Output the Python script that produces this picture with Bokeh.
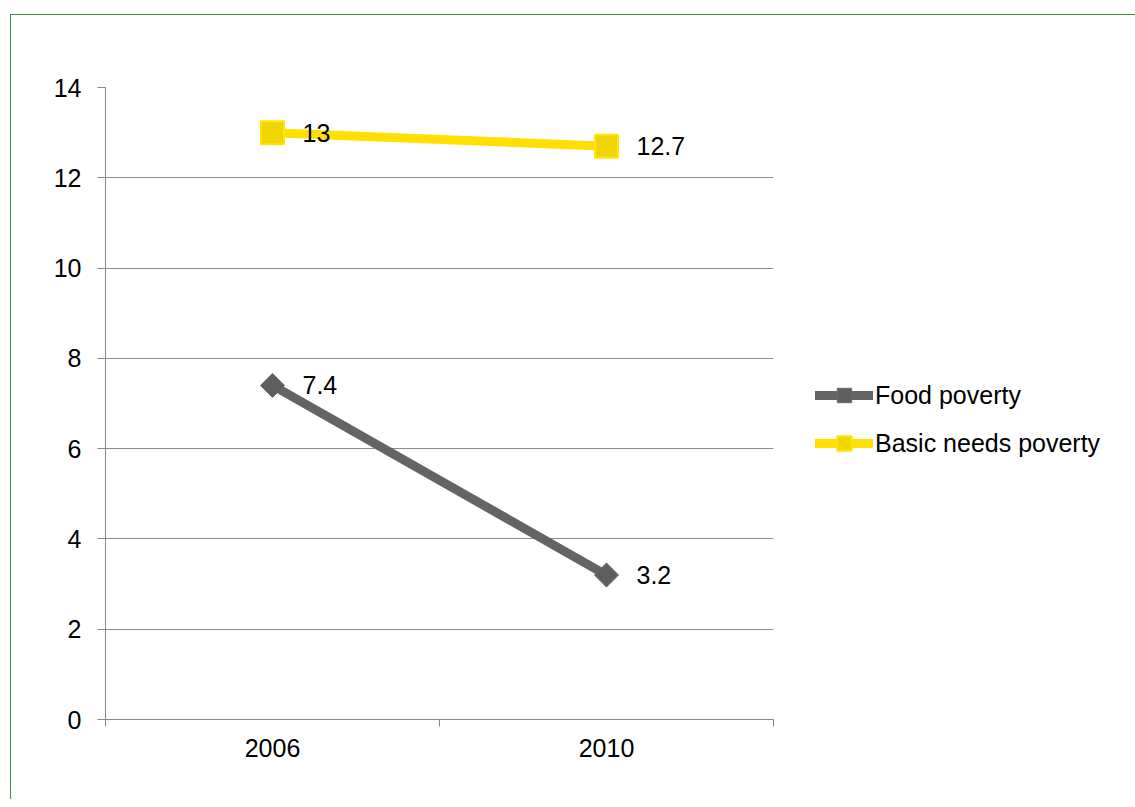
import math
from bokeh.plotting import figure
from bokeh.models import FixedTicker, Legend, LegendItem, Range1d
from bokeh.embed import file_html
from bokeh.resources import INLINE
from bokeh.core.properties import value

# ---- data ----
years = ["2006", "2010"]
food_poverty = [7.4, 3.2]
basic_needs_poverty = [13, 12.7]
y_ticks = [0, 2, 4, 6, 8, 10, 12, 14]

FONT = "Liberation Sans"
FS = "25px"
AXIS_GRAY = "#868686"
GREEN = "#3E8E4E"

xs = [i + 0.5 for i in range(len(years))]
boundaries = list(range(len(years) + 1))

p = figure(
    frame_width=668, frame_height=632,
    min_border_left=94, min_border_top=72, min_border_bottom=80, min_border_right=350,
    x_range=Range1d(0, len(years)), y_range=Range1d(0, 14),
    output_backend="svg", toolbar_location=None,
    styles={"margin-left": "10px", "margin-top": "14px",
            "border-left": f"1px solid {GREEN}", "border-top": f"1px solid {GREEN}"},
)
p.outline_line_color = None
p.background_fill_color = "white"
p.border_fill_color = "white"

# y axis
p.yaxis.ticker = FixedTicker(ticks=y_ticks)
p.yaxis.axis_line_color = AXIS_GRAY
p.yaxis.major_tick_line_color = AXIS_GRAY
p.yaxis.major_tick_out = 8
p.yaxis.major_tick_in = 0
p.yaxis.minor_tick_line_color = None
p.yaxis.major_label_standoff = 16
p.yaxis.major_label_text_font = FONT
p.yaxis.major_label_text_font_size = FS
p.yaxis.major_label_text_color = "black"

# x axis
p.xaxis.ticker = FixedTicker(ticks=xs, minor_ticks=boundaries)
p.xaxis.major_label_overrides = {x: y for x, y in zip(xs, years)}
p.xaxis.axis_line_color = AXIS_GRAY
p.xaxis.major_tick_line_color = None
p.xaxis.major_tick_out = 0
p.xaxis.major_tick_in = 0
p.xaxis.minor_tick_line_color = AXIS_GRAY
p.xaxis.minor_tick_out = 7
p.xaxis.minor_tick_in = 0
p.xaxis.major_label_standoff = 12
p.xaxis.major_label_text_font = FONT
p.xaxis.major_label_text_font_size = FS
p.xaxis.major_label_text_color = "black"

p.xgrid.grid_line_color = None
p.ygrid.ticker = FixedTicker(ticks=y_ticks)
p.ygrid.grid_line_color = "#8C8C8C"
p.ygrid.grid_line_width = 1

# series
food_line = p.line(xs, food_poverty, line_color="#646464", line_width=9, line_cap="round")
food_mk = p.scatter(xs, food_poverty, marker="square", angle=math.pi / 4, size=17,
                    fill_color="#5E5E5E", line_color="#6A6A6A", line_width=1)
basic_line = p.line(xs, basic_needs_poverty, line_color="#FFE000", line_width=9, line_cap="round")
basic_mk = p.scatter(xs, basic_needs_poverty, marker="square", size=23,
                     fill_color="#F2D400", line_color="#FFE600", line_width=2)

for vals in (food_poverty, basic_needs_poverty):
    p.text(xs, vals, text=[f"{v:g}" for v in vals], x_offset=30,
           text_baseline="middle", text_align="left",
           text_font=value(FONT), text_font_size=FS, text_color="black")

legend = Legend(
    items=[LegendItem(label="Food poverty", renderers=[food_line, food_mk]),
           LegendItem(label="Basic needs poverty", renderers=[basic_line, basic_mk])],
    location=(42, 258), glyph_width=58, glyph_height=36, label_standoff=2,
    spacing=12, padding=0, margin=0, border_line_alpha=0, background_fill_alpha=0,
    label_text_font=FONT, label_text_font_size=FS, label_text_color="black",
)
p.add_layout(legend, "right")

open("out.html", "w").write(file_html(p, INLINE))
